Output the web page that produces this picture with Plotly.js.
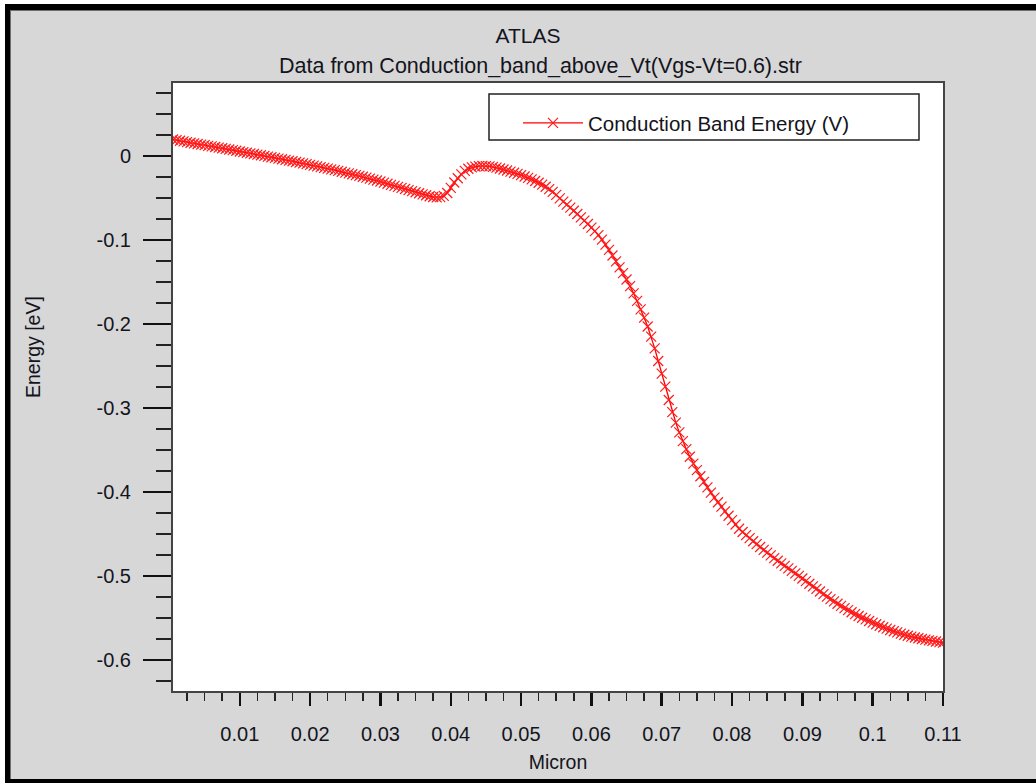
<!DOCTYPE html>
<html>
<head>
<meta charset="utf-8">
<script src="https://cdn.plot.ly/plotly-3.0.1.min.js"></script>
<style>
  html, body { margin: 0; padding: 0; background: #ffffff; width: 1036px; height: 783px; overflow: hidden; }
  #frame { position: absolute; left: 5px; top: 4px; width: 1031px; height: 779px; background: #000000; }
  #inner { position: absolute; left: 10px; top: 10px; width: 1025px; height: 768px; border-left: 1px solid #6e6e6e; border-top: 1px solid #6e6e6e; background: #d7d7d7; }
  #chart { position: absolute; left: 11px; top: 11px; width: 1025px; height: 768px; }
</style>
</head>
<body>
<div id="frame"></div>
<div id="inner"></div>
<div id="chart"></div>
<script>
// Distance along the cut (micron)
const micron = [
  0.0005,0.0010,0.0015,0.0020,0.0025,0.0030,0.0035,0.0040,0.0045,0.0050,
  0.0055,0.0060,0.0065,0.0070,0.0075,0.0080,0.0085,0.0090,0.0095,0.0100,
  0.0105,0.0110,0.0115,0.0120,0.0125,0.0130,0.0135,0.0140,0.0145,0.0150,
  0.0155,0.0160,0.0165,0.0170,0.0175,0.0180,0.0185,0.0190,0.0195,0.0200,
  0.0205,0.0210,0.0215,0.0220,0.0225,0.0230,0.0235,0.0240,0.0245,0.0250,
  0.0255,0.0260,0.0265,0.0270,0.0275,0.0280,0.0285,0.0290,0.0295,0.0300,
  0.0305,0.0310,0.0315,0.0320,0.0325,0.0330,0.0335,0.0340,0.0345,0.0350,
  0.0355,0.0360,0.0365,0.0370,0.0375,0.0380,0.0385,0.0390,0.0395,0.0400,
  0.0405,0.0410,0.0415,0.0420,0.0425,0.0430,0.0435,0.0440,0.0445,0.0450,
  0.0455,0.0460,0.0465,0.0470,0.0475,0.0480,0.0485,0.0490,0.0495,0.0500,
  0.0505,0.0510,0.0515,0.0520,0.0525,0.0530,0.0535,0.0540,0.0545,0.0550,
  0.0555,0.0560,0.0565,0.0570,0.0575,0.0580,0.0585,0.0590,0.0595,0.0600,
  0.0605,0.0610,0.0615,0.0620,0.0625,0.0630,0.0635,0.0640,0.0645,0.0650,
  0.0655,0.0660,0.0665,0.0670,0.0675,0.0680,0.0685,0.0690,0.0695,0.0700,
  0.0705,0.0710,0.0715,0.0720,0.0725,0.0730,0.0735,0.0740,0.0745,0.0750,
  0.0755,0.0760,0.0765,0.0770,0.0775,0.0780,0.0785,0.0790,0.0795,0.0800,
  0.0805,0.0810,0.0815,0.0820,0.0825,0.0830,0.0835,0.0840,0.0845,0.0850,
  0.0855,0.0860,0.0865,0.0870,0.0875,0.0880,0.0885,0.0890,0.0895,0.0900,
  0.0905,0.0910,0.0915,0.0920,0.0925,0.0930,0.0935,0.0940,0.0945,0.0950,
  0.0955,0.0960,0.0965,0.0970,0.0975,0.0980,0.0985,0.0990,0.0995,0.1000,
  0.1005,0.1010,0.1015,0.1020,0.1025,0.1030,0.1035,0.1040,0.1045,0.1050,
  0.1055,0.1060,0.1065,0.1070,0.1075,0.1080,0.1085,0.1090,0.1095,0.1100
];
// Conduction band energy (eV)
const conductionBand = [
  0.0196,0.0189,0.0181,0.0174,0.0166,0.0158,0.0151,0.0143,0.0136,0.0129,
  0.0121,0.0114,0.0107,0.0099,0.0092,0.0084,0.0077,0.0069,0.0062,0.0054,
  0.0047,0.0039,0.0032,0.0024,0.0016,0.0009,0.0001,-0.0007,-0.0015,-0.0023,
  -0.0031,-0.0039,-0.0047,-0.0055,-0.0063,-0.0071,-0.0079,-0.0088,-0.0096,-0.0105,
  -0.0114,-0.0123,-0.0132,-0.0141,-0.0150,-0.0159,-0.0168,-0.0178,-0.0188,-0.0197,
  -0.0207,-0.0217,-0.0227,-0.0236,-0.0247,-0.0258,-0.0269,-0.0281,-0.0292,-0.0304,
  -0.0317,-0.0330,-0.0343,-0.0355,-0.0368,-0.0380,-0.0393,-0.0406,-0.0419,-0.0432,
  -0.0444,-0.0456,-0.0467,-0.0479,-0.0488,-0.0493,-0.0490,-0.0474,-0.0440,-0.0380,
  -0.0316,-0.0265,-0.0218,-0.0178,-0.0152,-0.0136,-0.0127,-0.0121,-0.0119,-0.0120,
  -0.0124,-0.0130,-0.0139,-0.0149,-0.0161,-0.0173,-0.0186,-0.0199,-0.0213,-0.0228,
  -0.0244,-0.0261,-0.0279,-0.0298,-0.0318,-0.0340,-0.0366,-0.0395,-0.0427,-0.0463,
  -0.0505,-0.0543,-0.0579,-0.0615,-0.0652,-0.0691,-0.0730,-0.0770,-0.0810,-0.0852,
  -0.0895,-0.0942,-0.0995,-0.1055,-0.1118,-0.1185,-0.1255,-0.1325,-0.1395,-0.1470,
  -0.1550,-0.1635,-0.1725,-0.1825,-0.1925,-0.2030,-0.2150,-0.2290,-0.2440,-0.2590,
  -0.2745,-0.2905,-0.3050,-0.3175,-0.3290,-0.3395,-0.3490,-0.3580,-0.3662,-0.3740,
  -0.3812,-0.3880,-0.3945,-0.4007,-0.4066,-0.4122,-0.4175,-0.4230,-0.4283,-0.4335,
  -0.4387,-0.4438,-0.4476,-0.4513,-0.4550,-0.4586,-0.4621,-0.4655,-0.4689,-0.4722,
  -0.4755,-0.4787,-0.4818,-0.4849,-0.4879,-0.4909,-0.4939,-0.4969,-0.4999,-0.5030,
  -0.5061,-0.5092,-0.5123,-0.5154,-0.5185,-0.5216,-0.5246,-0.5275,-0.5303,-0.5330,
  -0.5356,-0.5382,-0.5407,-0.5431,-0.5454,-0.5476,-0.5497,-0.5517,-0.5536,-0.5555,
  -0.5574,-0.5592,-0.5610,-0.5627,-0.5643,-0.5658,-0.5672,-0.5686,-0.5699,-0.5711,
  -0.5722,-0.5732,-0.5741,-0.5750,-0.5758,-0.5766,-0.5773,-0.5780,-0.5787,-0.5793
];
const xTickVals = [0.01,0.02,0.03,0.04,0.05,0.06,0.07,0.08,0.09,0.1,0.11];
const xTickLabels = ['0.01','0.02','0.03','0.04','0.05','0.06','0.07','0.08','0.09','0.1','0.11'];
const yTickVals = [0,-0.1,-0.2,-0.3,-0.4,-0.5,-0.6];
const yTickLabels = ['0','-0.1','-0.2','-0.3','-0.4','-0.5','-0.6'];
const seriesName = 'Conduction Band Energy (V)';
const chartTitle = 'ATLAS';
const chartSubtitle = 'Data from Conduction_band_above_Vt(Vgs-Vt=0.6).str';
const xTitle = 'Micron';
const yTitle = 'Energy [eV]';

const FONT = '"Liberation Sans", Arial, sans-serif';
const TXT = '#141420';

const trace = {
  x: micron, y: conductionBand, type: 'scatter', mode: 'lines+markers',
  name: seriesName,
  line: { color: '#ff0000', width: 1.3 },
  marker: { symbol: 'x-thin', size: 10, color: '#ff0000', line: { color: '#ff1a1a', width: 1.2 } }
};

const layout = {
  width: 1025, height: 768,
  margin: { l: 162, r: 93, t: 72, b: 88, pad: 0 },
  paper_bgcolor: 'rgba(0,0,0,0)', plot_bgcolor: '#ffffff',
  font: { family: FONT, size: 20, color: TXT },
  showlegend: true,
  title: { text: chartTitle, x: (528-11)/1025, xref: 'container', xanchor: 'center', y: 1 - 25/768, yref: 'container', yanchor: 'middle', pad: { t: 0, b: 0, l: 0, r: 0 }, font: { family: FONT, size: 21, color: TXT } },
  xaxis: {
    range: [0.0005, 0.11], tickmode: 'array', tickvals: xTickVals, ticktext: xTickLabels,
    ticks: 'outside', ticklen: 13, tickwidth: 2.5, tickcolor: '#111111',
    showline: true, linecolor: '#444444', linewidth: 2, mirror: true,
    showgrid: false, zeroline: false, ticklabelstandoff: 11,
    tickfont: { family: FONT, size: 20, color: TXT },
    minor: { ticks: 'outside', ticklen: 8, tickwidth: 1.5, tickcolor: '#222222', dtick: 0.0025, tick0: 0, showgrid: false },
    title: { text: xTitle, font: { family: FONT, size: 19.5, color: TXT }, standoff: 11 }
  },
  yaxis: {
    range: [-0.6369, 0.0869], tickmode: 'array', tickvals: yTickVals, ticktext: yTickLabels,
    ticks: 'outside', ticklen: 28, tickwidth: 2.5, tickcolor: '#111111',
    showline: true, linecolor: '#444444', linewidth: 2, mirror: true,
    showgrid: false, zeroline: false, ticklabelstandoff: 8,
    tickfont: { family: FONT, size: 20, color: TXT },
    minor: { ticks: 'outside', ticklen: 15, tickwidth: 1.5, tickcolor: '#222222', dtick: 0.025, tick0: 0, showgrid: false }
  },
  legend: {
    x: (518-173)/770, y: 0.967, xanchor: 'left', yanchor: 'top', xref: 'paper', yref: 'paper',
    bgcolor: 'rgba(0,0,0,0)', borderwidth: 0, itemwidth: 60,
    font: { family: FONT, size: 20.5, color: TXT }
  },
  shapes: [
    { type: 'rect', xref: 'paper', yref: 'paper', x0: (489-173)/770, x1: (919-173)/770, y0: (691-140)/608, y1: (691-94)/608,
      fillcolor: '#ffffff', line: { color: '#222222', width: 1.5 }, layer: 'above' }
  ],
  annotations: [
    { text: chartSubtitle, xref: 'paper', yref: 'paper', x: (540-173)/770, y: (691-66)/608, xanchor: 'center', yanchor: 'middle', showarrow: false, font: { family: FONT, size: 21.5, color: TXT } },
    { text: yTitle, xref: 'paper', yref: 'paper', x: (33-173)/770, y: (691-347)/608, xanchor: 'center', yanchor: 'middle', textangle: -90, showarrow: false, font: { family: FONT, size: 19.5, color: TXT } }
  ]
};

Plotly.newPlot('chart', [trace], layout, { displayModeBar: false, staticPlot: true });
</script>
</body>
</html>
